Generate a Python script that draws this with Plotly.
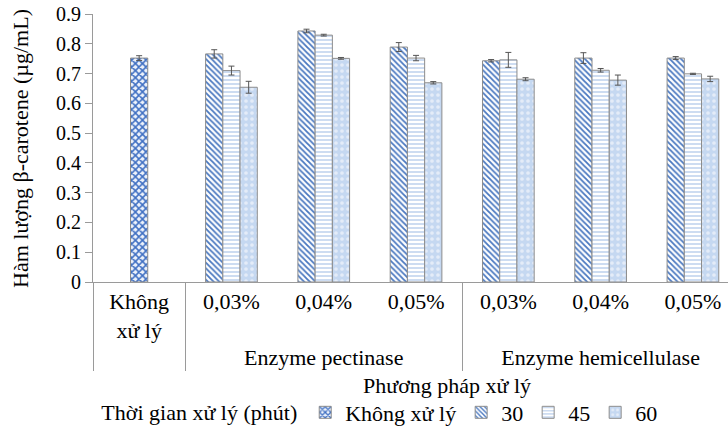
import plotly.graph_objects as go

groups = [" ", "Enzyme pectinase", "Enzyme pectinase", "Enzyme pectinase",
          "Enzyme hemicellulase", "Enzyme hemicellulase", "Enzyme hemicellulase"]
labels = ["Không<br>xử lý", "0,03%", "0,04%", "0,05%", "0,03%", "0,04%", "0,05%"]

ctrl_val = [0.752, None, None, None, None, None, None]
ctrl_err = [0.008, 0, 0, 0, 0, 0, 0]
v30 = [None, 0.766, 0.843, 0.789, 0.743, 0.752, 0.752]
e30 = [0, 0.014, 0.006, 0.015, 0.004, 0.018, 0.005]
v45 = [None, 0.710, 0.829, 0.752, 0.746, 0.711, 0.699]
e45 = [0, 0.015, 0.003, 0.009, 0.025, 0.006, 0.002]
v60 = [None, 0.654, 0.751, 0.669, 0.681, 0.678, 0.682]
e60 = [0, 0.020, 0.003, 0.004, 0.005, 0.017, 0.009]

series_names = ["Không xử lý", "30", "45", "60"]

FONT = "Liberation Serif"
x = [groups, labels]
line = dict(color="#8c8c8c", width=1)
err_style = dict(type="data", color="#555555", thickness=1, width=3)

fig = go.Figure()
fig.add_trace(go.Bar(
    x=x, y=v30, name=series_names[1], offsetgroup="a", legendrank=2,
    error_y=dict(array=e30, **err_style),
    marker=dict(color="white", line=line,
                pattern=dict(shape="\\", fgcolor="#4a78c0", bgcolor="white",
                             size=4, solidity=0.45))))
fig.add_trace(go.Bar(
    x=x, y=v45, name=series_names[2], offsetgroup="b", legendrank=3,
    error_y=dict(array=e45, **err_style),
    marker=dict(color="white", line=line,
                pattern=dict(shape="-", fgcolor="#c0d3ee", bgcolor="white",
                             size=4, solidity=0.4))))
fig.add_trace(go.Bar(
    x=x, y=v60, name=series_names[3], offsetgroup="c", legendrank=4,
    error_y=dict(array=e60, **err_style),
    marker=dict(color="#c9daf2", line=line,
                pattern=dict(shape=".", fgcolor="#e4ecf8", bgcolor="#c5d8f1",
                             size=6, solidity=0.3))))
fig.add_trace(go.Bar(
    x=x, y=ctrl_val, name=series_names[0], offsetgroup="b", legendrank=1,
    error_y=dict(array=ctrl_err, **err_style),
    marker=dict(color="white", line=line,
                pattern=dict(shape="x", fgcolor="#3f6fc2", bgcolor="#eef3fb",
                             size=5, solidity=0.55))))

fig.update_layout(
    template="none",
    width=728, height=441,
    margin=dict(l=93, r=0, t=14, b=159),
    paper_bgcolor="white", plot_bgcolor="white",
    barmode="group", bargap=0.44, bargroupgap=0,
    font=dict(family=FONT, size=20, color="black"),
    showlegend=True,
    legend=dict(orientation="h", x=0.01, xanchor="left", y=-0.487, yanchor="middle",
                title=dict(text="Thời gian xử lý (phút)", font=dict(size=22, family=FONT)),
                font=dict(size=22, family=FONT, color="black"), itemwidth=30,
                tracegroupgap=0, bgcolor="rgba(0,0,0,0)"),
    xaxis=dict(type="multicategory", range=[-0.5, 6.38],
               showline=True, linecolor="#9a9a9a", linewidth=1,
               showgrid=False, ticks="", showdividers=True,
               dividercolor="#9a9a9a", dividerwidth=1,
               tickfont=dict(size=22, family=FONT, color="black")),
    yaxis=dict(range=[0, 0.9],
               tickvals=[0, 0.1, 0.2, 0.3, 0.4, 0.5, 0.6, 0.7, 0.8, 0.9],
               ticktext=["0", "0.1", "0.2", "0.3", "0.4", "0.5", "0.6", "0.7", "0.8", "0.9"],
               showline=True, linecolor="#9a9a9a", linewidth=1,
               showgrid=False, zeroline=False, ticks="outside", ticklen=7,
               tickcolor="#9a9a9a",
               tickfont=dict(size=20, family=FONT, color="black")),
    annotations=[
        dict(text="Hàm lượng β-carotene (µg/mL)", xref="paper", yref="paper",
             x=-0.115, y=0.5, textangle=-90, showarrow=False,
             xanchor="center", yanchor="middle",
             font=dict(size=22, family=FONT, color="black")),
        dict(text="Phương pháp xử lý", xref="paper", yref="paper",
             x=0.557, y=-0.385, showarrow=False, xanchor="center", yanchor="middle",
             font=dict(size=22, family=FONT, color="black")),
    ],
)

fig.write_html("out.html")
